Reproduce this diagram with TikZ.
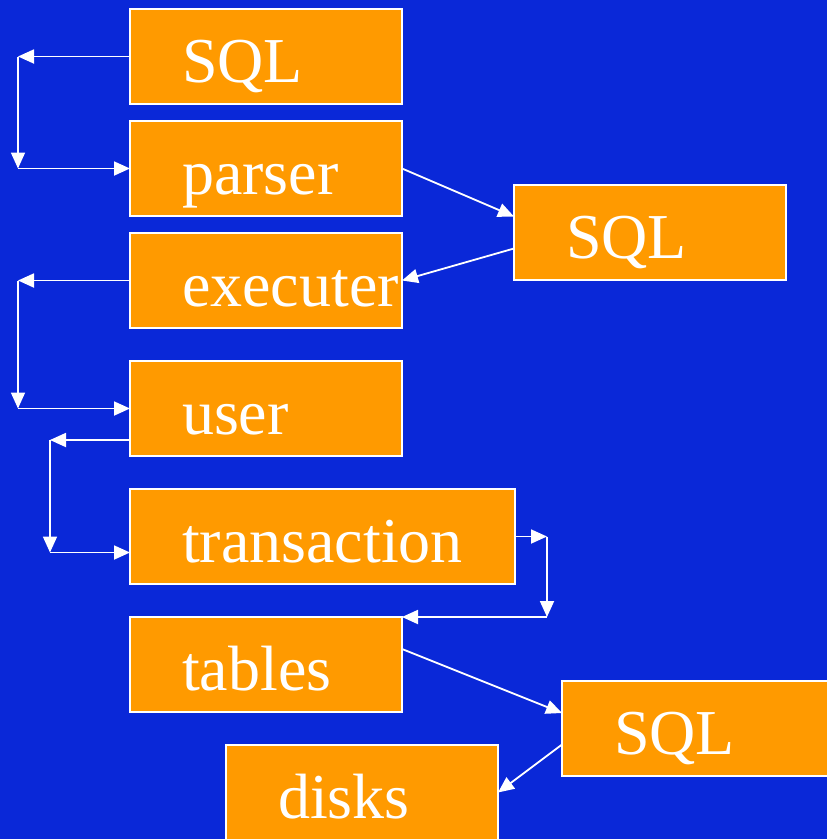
\documentclass[tikz,border=0pt]{standalone}
\usepackage{fontspec}
\setmainfont{Liberation Serif}
\usetikzlibrary{arrows.meta}
\definecolor{bgblue}{RGB}{10,40,216}
\definecolor{boxorange}{RGB}{255,154,0}
\begin{document}
\begin{tikzpicture}[x=1pt,y=-1pt,
  boxnode/.style={rectangle,draw=white,line width=2pt,fill=boxorange,
    inner sep=0pt,outer sep=0pt,anchor=north west,
    text=white,font=\fontsize{64}{64}\selectfont,
    text height=73pt,text depth=22pt,text width=272pt,align=left},
  arr/.style={draw=white,line width=1.8pt,-{Triangle[length=16pt,width=14pt]}}]
\fill[bgblue] (0,0) rectangle (827,839);
\useasboundingbox (0,0) rectangle (827,839);

\node[boxnode] (sql1) at (130,9) {\hspace*{52pt}SQL};
\node[boxnode] (parser) at (130,121) {\hspace*{52pt}parser};
\node[boxnode] (executer) at (130,233) {\hspace*{52pt}executer};
\node[boxnode] (user) at (130,361) {\hspace*{52pt}user};
\node[boxnode,text width=385pt] (transaction) at (130,489) {\hspace*{52pt}transaction};
\node[boxnode] (tables) at (130,617) {\hspace*{52pt}tables};
\node[boxnode] (disks) at (226,745) {\hspace*{52pt}disks};
\node[boxnode] (sql2) at (514,185) {\hspace*{52pt}SQL};
\node[boxnode] (sql3) at (562,681) {\hspace*{52pt}SQL};

\coordinate (p1) at (18,56.5);
\coordinate (p2) at (18,168.5);
\coordinate (p3) at (18,280.5);
\coordinate (p4) at (18,408.5);
\coordinate (p5) at (50,440);
\coordinate (p6) at (50,552.5);
\coordinate (p7) at (547,536.5);
\coordinate (p8) at (547,617);

\draw[arr] (sql1.west) -- (p1);
\draw[arr] (p1) -- (p2);
\draw[arr] (p2) -- (parser.west);

\draw[arr] (parser.east) -- ([yshift=16pt]sql2.west);
\draw[arr] ([yshift=-16pt]sql2.west) -- (executer.east);

\draw[arr] (executer.west) -- (p3);
\draw[arr] (p3) -- (p4);
\draw[arr] (p4) -- (user.west);

\draw[arr] ([yshift=16pt]user.south west) -- (p5);
\draw[arr] (p5) -- (p6);
\draw[arr] (p6) -- ([yshift=-16pt]transaction.west);

\draw[arr] (transaction.east) -- (p7);
\draw[arr] (p7) -- (p8);
\draw[arr] (p8) -- (tables.north east);

\draw[arr] ([yshift=15.5pt]tables.east) -- ([yshift=15.5pt]sql3.west);
\draw[arr] ([yshift=-16pt]sql3.west) -- (disks.east);
\end{tikzpicture}
\end{document}
